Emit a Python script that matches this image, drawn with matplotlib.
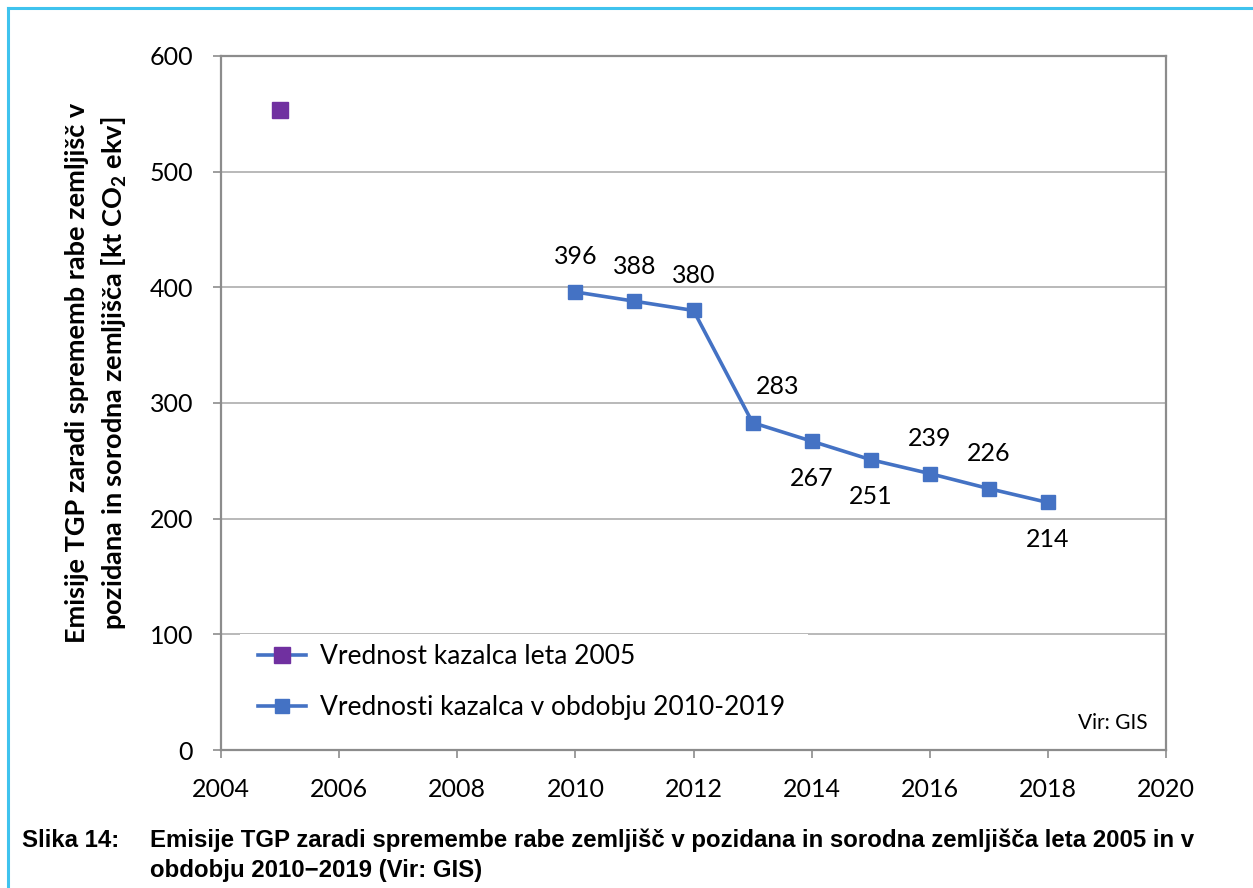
import matplotlib
matplotlib.use("Agg")
import matplotlib.pyplot as plt
from matplotlib.patches import Rectangle
from matplotlib.lines import Line2D

plt.rcParams['font.family'] = ['Lato', 'DejaVu Sans']
plt.rcParams['mathtext.fontset'] = 'custom'
plt.rcParams['mathtext.rm'] = 'Lato'
plt.rcParams['mathtext.bf'] = 'Lato:bold'
plt.rcParams['mathtext.it'] = 'Lato:italic'

# ---- data ----
years_2005 = [2005]
values_2005 = [553]
years_period = [2010, 2011, 2012, 2013, 2014, 2015, 2016, 2017, 2018]
values_period = [396, 388, 380, 283, 267, 251, 239, 226, 214]
label_pos = ['above', 'above', 'above', 'aboveright', 'below', 'below', 'above', 'above', 'below']
legend_labels = ['Vrednost kazalca leta 2005', 'Vrednosti kazalca v obdobju 2010-2019']
x_ticks = [2004, 2006, 2008, 2010, 2012, 2014, 2016, 2018, 2020]
y_ticks = [0, 100, 200, 300, 400, 500, 600]

BLUE = '#4472C4'
PURPLE = '#7030A0'
GRID = '#A6A6A6'
SPINE = '#8C8C8C'

W, H = 1253, 888
fig = plt.figure(figsize=(W / 100, H / 100), dpi=100)
ax = fig.add_axes([221 / W, 1 - 750 / H, (1166 - 221) / W, (750 - 56) / H])

ax.set_xlim(2004, 2020)
ax.set_ylim(0, 600)
ax.set_xticks(x_ticks)
ax.set_yticks(y_ticks)
ax.tick_params(axis='both', labelsize=18, length=6, width=1.2, color=SPINE)
ax.tick_params(axis='x', pad=14)
ax.tick_params(axis='y', pad=14)
for s in ax.spines.values():
    s.set_color(SPINE)
    s.set_linewidth(1.6)
ax.yaxis.grid(True, color=GRID, linewidth=1.1)
ax.set_axisbelow(True)

# white legend background covering the grid
ax.add_patch(Rectangle(((240 - 221) / 945, (750 - 745) / 694), (808 - 240) / 945, (745 - 634) / 694,
                       transform=ax.transAxes, facecolor='white', edgecolor='none', zorder=1.5))

ax.plot(years_2005, values_2005, color=BLUE, linewidth=2.6, marker='s', markersize=11,
        markerfacecolor=PURPLE, markeredgecolor=PURPLE, label=legend_labels[0], zorder=3)
ax.plot(years_period, values_period, color=BLUE, linewidth=2.6, marker='s', markersize=10,
        markerfacecolor=BLUE, markeredgecolor=BLUE, label=legend_labels[1], zorder=3)

for x, y, p in zip(years_period, values_period, label_pos):
    if p == 'above':
        off = (0, 35)
    elif p == 'aboveright':
        off = (25, 36)
    else:
        off = (0, -37)
    ax.annotate(str(y), (x, y), xytext=off, textcoords='offset pixels',
                ha='center', va='center', fontsize=18, color='black', zorder=4)

leg = ax.legend(loc='upper left', bbox_to_anchor=((258 - 221) / 945, (750 - 644) / 694),
                frameon=False, fontsize=19, handlelength=1.8, handletextpad=0.55,
                labelspacing=0.98, borderpad=0, borderaxespad=0)

ax.text((1148 - 221) / 945, (750 - 723) / 694, 'Vir: GIS', transform=ax.transAxes,
        ha='right', va='center', fontsize=15)

# y-axis title (two lines)
fig.text(77 / W, 1 - 373 / H, 'Emisije TGP zaradi sprememb rabe zemljišč v',
         rotation=90, ha='center', va='center', fontsize=19.5, fontweight='bold')
fig.text(114 / W, 1 - 373 / H, r'pozidana in sorodna zemljišča [kt CO$_\mathbf{2}$ ekv]',
         rotation=90, ha='center', va='center', fontsize=19.5, fontweight='bold')

# caption
cap_font = ['Liberation Sans', 'DejaVu Sans']
fig.text(22 / W, 1 - 847 / H, 'Slika 14:', ha='left', va='baseline', fontsize=17.3,
         fontweight='bold', family=cap_font)
fig.text(150 / W, 1 - 847 / H,
         'Emisije TGP zaradi spremembe rabe zemljišč v pozidana in sorodna zemljišča leta 2005 in v',
         ha='left', va='baseline', fontsize=17.3, fontweight='bold', family=cap_font)
fig.text(150 / W, 1 - 877 / H, 'obdobju 2010\u22122019 (Vir: GIS)',
         ha='left', va='baseline', fontsize=17.3, fontweight='bold', family=cap_font)

# light-blue frame (left and top edges)
BORDER = '#3FC3EE'
fig.add_artist(Line2D([8 / W, 8 / W], [0, 1 - 8 / H], transform=fig.transFigure, color=BORDER, linewidth=2.2))
fig.add_artist(Line2D([8 / W, 1], [1 - 8 / H, 1 - 8 / H], transform=fig.transFigure, color=BORDER, linewidth=2.2))

fig.savefig('out.png', dpi=100, facecolor='white')
